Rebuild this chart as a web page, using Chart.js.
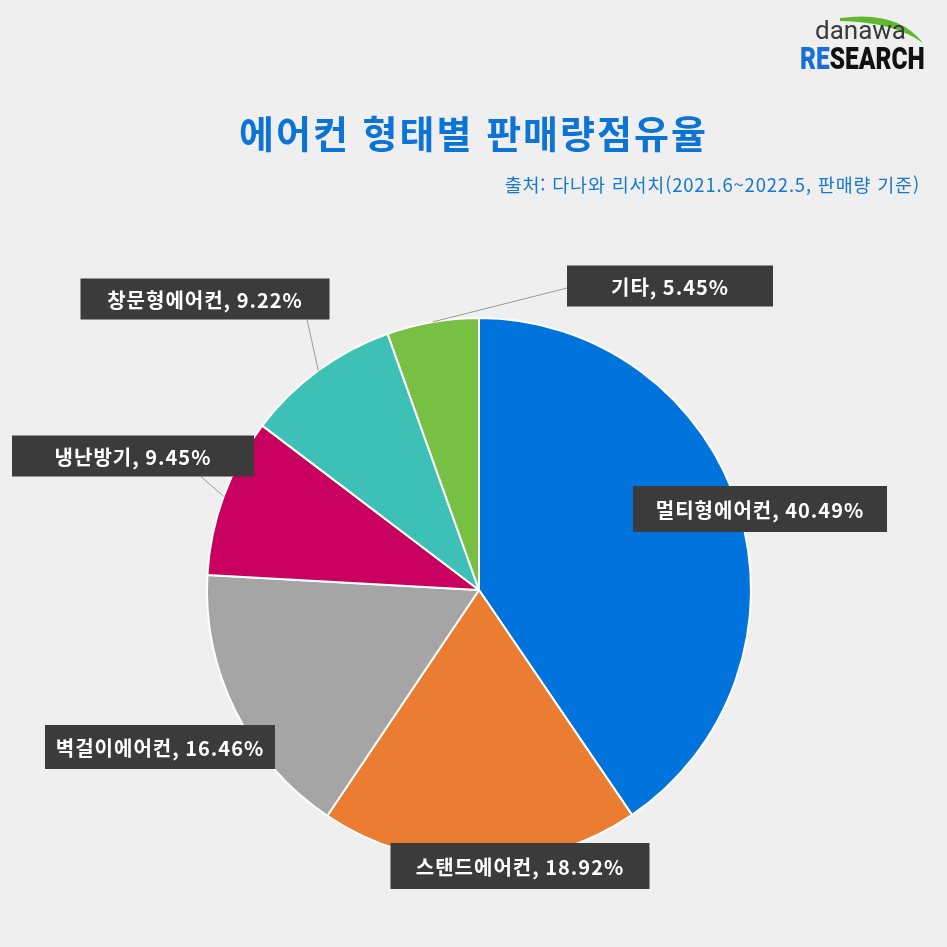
<!DOCTYPE html>
<html lang="ko">
<head>
<meta charset="utf-8">
<script src="https://cdn.jsdelivr.net/npm/chart.js@4"></script>
<style>
  html, body { margin: 0; padding: 0; background: #efefef; }
  #wrap { position: relative; width: 947px; height: 947px; overflow: hidden; }
  #chart { position: absolute; left: 0; top: 0; }
  .title {
    position: absolute; left: 0; width: 947px; top: 104px; text-align: center;
    font-family: "Noto Sans CJK KR", sans-serif; font-weight: 700; font-size: 38px;
    color: #0b74d4; letter-spacing: 2px;
  }
  .sub {
    position: absolute; right: 27px; top: 171px;
    font-family: "Noto Sans CJK KR", sans-serif; font-size: 18.5px; color: #1878cc;
    letter-spacing: 0.8px;
  }
  .logo { position: absolute; left: 796px; top: 12px; width: 140px; height: 60px; }
  .logo .dn {
    position: absolute; left: 19px; top: 3px; font-family: Roboto, sans-serif;
    font-size: 26px; color: #3a3a3a;
  }
  .logo .rs {
    position: absolute; left: 4px; top: 28px; font-family: Roboto, sans-serif;
    font-weight: 900; font-size: 31px; color: #111; transform: scaleX(0.79);
    transform-origin: left top;
  }
  .logo .rs b { color: #1a6fd6; font-weight: 900; }
  .logo svg { position: absolute; left: 0; top: 0; }
</style>
</head>
<body>
<div id="wrap">
  <canvas id="chart" width="947" height="947"></canvas>
  <div class="logo">
    <svg width="140" height="60"><path d="M44 6 Q102 -2 127 31 Q98 10 44 9 Z" fill="#5fb830"/></svg>
    <div class="dn">danawa</div>
    <div class="rs"><b>RE</b>SEARCH</div>
  </div>
  <div class="title">에어컨 형태별 판매량점유율</div>
  <div class="sub">출처: 다나와 리서치(2021.6~2022.5, 판매량 기준)</div>
</div>
<script>
// data
var categories = ['멀티형에어컨', '스탠드에어컨', '벽걸이에어컨', '냉난방기', '창문형에어컨', '기타'];
var shares = [40.49, 18.92, 16.46, 9.45, 9.22, 5.45];
var colors = ['#0073dc', '#ea7d31', '#a5a5a5', '#c9005f', '#3dc1b6', '#78c043'];

// label boxes: centre, size, optional leader anchor on the box
var labelPos = [
  { x: 760, y: 509, w: 254, h: 46, lead: null },
  { x: 520, y: 866, w: 259, h: 46, lead: null },
  { x: 160, y: 747, w: 230, h: 44, lead: null },
  { x: 133, y: 456, w: 242, h: 41, lead: { fx: 0.78, side: 'bottom' } },
  { x: 205, y: 299, w: 249, h: 41, lead: { fx: 0.91, side: 'bottom' } },
  { x: 670, y: 286, w: 206, h: 41, lead: { fx: 0, side: 'left' } }
];

var boxLabels = {
  id: 'boxLabels',
  afterDatasetsDraw: function(chart) {
    var ctx = chart.ctx;
    var arcs = chart.getDatasetMeta(0).data;
    ctx.save();
    ctx.font = 'bold 20px "Noto Sans CJK KR", sans-serif';
    if ('letterSpacing' in ctx) ctx.letterSpacing = '1px';
    arcs.forEach(function(arc, i) {
      var p = labelPos[i];
      var text = categories[i] + ', ' + shares[i].toFixed(2) + '%';
      var bx = p.x - p.w / 2, by = p.y - p.h / 2;
      if (p.lead) {
        var mid = (arc.startAngle + arc.endAngle) / 2;
        var ex = arc.x + Math.cos(mid) * arc.outerRadius;
        var ey = arc.y + Math.sin(mid) * arc.outerRadius;
        var sx = bx + p.w * p.lead.fx;
        var sy = p.lead.side === 'bottom' ? by + p.h : p.y + 2;
        ctx.strokeStyle = '#9a9a9a';
        ctx.lineWidth = 1;
        ctx.beginPath();
        ctx.moveTo(sx, sy);
        ctx.lineTo(ex, ey);
        ctx.stroke();
      }
      ctx.fillStyle = '#3b3b3b';
      ctx.fillRect(bx, by, p.w, p.h);
      ctx.fillStyle = '#ffffff';
      ctx.textAlign = 'center';
      ctx.textBaseline = 'middle';
      ctx.fillText(text, p.x, p.y + 1);
    });
    ctx.restore();
  }
};

new Chart(document.getElementById('chart'), {
  type: 'pie',
  data: {
    labels: categories,
    datasets: [{
      data: shares,
      backgroundColor: colors,
      borderColor: '#ffffff',
      borderWidth: 2,
      hoverOffset: 0
    }]
  },
  options: {
    responsive: false,
    animation: false,
    layout: { padding: { left: 206, right: 195, top: 317, bottom: 84 } },
    plugins: {
      legend: { display: false },
      tooltip: { enabled: false }
    }
  },
  plugins: [boxLabels]
});
</script>
</body>
</html>
